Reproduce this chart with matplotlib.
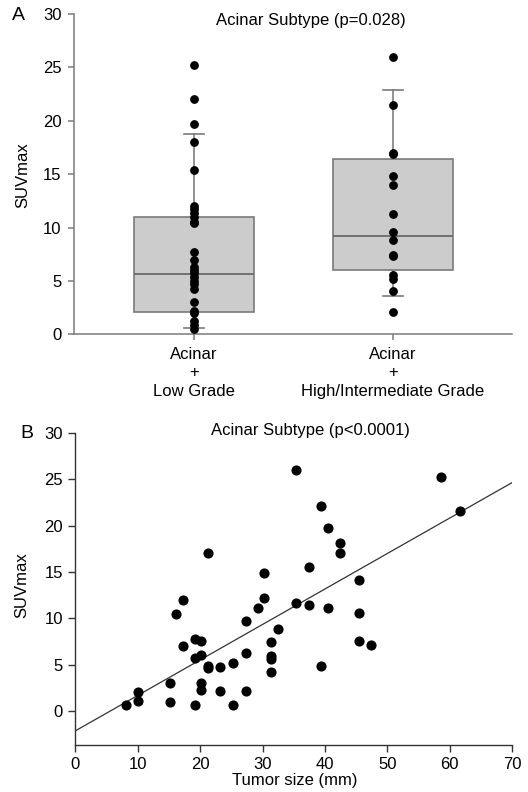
import numpy as np
import matplotlib
matplotlib.use("Agg")
import matplotlib.pyplot as plt

plt.rcParams['font.family'] = ['Liberation Sans', 'DejaVu Sans']
plt.rcParams['font.size'] = 12

# panel A data
groups = ["Acinar\n+\nLow Grade", "Acinar\n+\nHigh/Intermediate Grade"]
low_grade_suv = [25.2, 22.0, 19.7, 18.0, 15.4, 12.0, 11.7, 11.4, 11.0, 10.5, 10.4,
                 7.7, 7.0, 6.3, 6.0, 5.7, 5.4, 5.0, 4.7, 4.2, 3.0, 2.2, 2.0, 1.2, 0.9, 0.5]
high_grade_suv = [26.0, 21.5, 17.0, 16.9, 14.8, 14.0, 11.3, 9.6, 8.8, 7.4, 7.3,
                  5.6, 5.2, 4.1, 2.1]
box_whislo = [0.55, 3.56]
box_q1 = [2.08, 5.99]
box_med = [5.67, 9.23]
box_q3 = [11.03, 16.42]
box_whishi = [18.75, 22.88]

# panel B data
tumor_size = [8.1, 10.1, 10.1, 15.1, 15.1, 16.1, 17.2, 17.2, 19.1, 19.1, 19.1,
              20.2, 20.2, 20.2, 20.2, 21.2, 21.2, 21.2, 23.2, 23.2, 25.2, 25.2,
              27.3, 27.3, 27.3, 29.3, 30.3, 30.3, 31.3, 31.3, 31.3, 31.3, 32.4,
              35.4, 35.4, 37.4, 37.4, 39.4, 39.4, 40.4, 40.4, 42.4, 42.4,
              45.4, 45.4, 45.4, 47.4, 58.6, 61.6]
tumor_suv = [0.6, 2.1, 1.1, 3.0, 1.0, 10.5, 12.0, 7.0, 7.8, 5.7, 0.6,
             7.5, 6.0, 3.0, 2.3, 17.0, 4.8, 4.6, 4.7, 2.2, 5.2, 0.6,
             9.7, 6.3, 2.2, 11.1, 14.9, 12.2, 7.4, 5.9, 5.6, 4.2, 8.9,
             26.0, 11.7, 15.5, 11.4, 22.1, 4.9, 19.8, 11.1, 18.1, 17.1,
             14.1, 10.6, 7.5, 7.1, 25.3, 21.6]
fit_intercept = -2.15
fit_slope = 0.383

W, H = 528, 792
fig = plt.figure(figsize=(W / 100, H / 100), dpi=100)

# ---- panel A ----
axA = fig.add_axes([74 / W, 1 - 334.3 / H, 438 / W, 320.3 / H])
stats = []
for i in range(2):
    stats.append(dict(whislo=box_whislo[i], q1=box_q1[i], med=box_med[i],
                      q3=box_q3[i], whishi=box_whishi[i], fliers=[]))
grey = '#7a7a7a'
axA.bxp(stats, positions=[1, 2], widths=0.6, patch_artist=True, showfliers=False,
        capwidths=0.1,
        boxprops=dict(facecolor='#cccccc', edgecolor=grey, linewidth=1.2),
        medianprops=dict(color='#6a6a6a', linewidth=1.3),
        whiskerprops=dict(color='#8a8a8a', linewidth=1.3),
        capprops=dict(color=grey, linewidth=1.2))
for pos, vals in zip([1, 2], [low_grade_suv, high_grade_suv]):
    axA.plot(np.full(len(vals), pos), vals, 'o', color='black', ms=5.3,
             mec='black', zorder=4, clip_on=False)
axA.set_xlim(0.397, 2.598)
axA.set_ylim(0, 30)
axA.set_yticks(range(0, 31, 5))
axA.set_xticks([1, 2])
axA.set_xticklabels(groups)
for lab in axA.get_xticklabels():
    lab.set_linespacing(1.3)
for s in ['top', 'right']:
    axA.spines[s].set_visible(False)
for s in ['left', 'bottom']:
    axA.spines[s].set_color(grey)
    axA.spines[s].set_linewidth(1.1)
axA.tick_params(axis='both', color=grey, length=4, width=1.1, pad=5, labelsize=12)
axA.text(311 / W, 1 - 20 / H, "Acinar Subtype (p=0.028)", transform=fig.transFigure,
         ha='center', va='center', fontsize=12)

# ---- panel B ----
axB = fig.add_axes([75.3 / W, 1 - 744.7 / H, 437 / W, 311.7 / H])
axB.plot(tumor_size, tumor_suv, 'o', color='black', ms=6.3, zorder=3, clip_on=False)
axB.axline((0, fit_intercept), slope=fit_slope, color='#333333', linewidth=0.9)
axB.set_xlim(0, 70)
axB.set_ylim(-3.64, 30)
axB.set_yticks(range(0, 31, 5))
axB.set_xticks(range(0, 71, 10))
for s in ['top', 'right']:
    axB.spines[s].set_visible(False)
for s in ['left', 'bottom']:
    axB.spines[s].set_color('#333333')
    axB.spines[s].set_linewidth(1.0)
axB.tick_params(axis='both', color='#333333', length=5, width=1.0, pad=4, labelsize=12)
axB.text(310 / W, 1 - 431 / H, "Acinar Subtype (p<0.0001)", transform=fig.transFigure,
         ha='center', va='center', fontsize=12)

# labels
fig.text(18.5 / W, 1 - 15 / H, "A", ha='center', va='center', fontsize=14)
fig.text(27 / W, 1 - 433 / H, "B", ha='center', va='center', fontsize=14)
fig.text(23 / W, 1 - 175 / H, "SUVmax", rotation=90, ha='center', va='center', fontsize=12)
fig.text(22 / W, 1 - 585 / H, "SUVmax", rotation=90, ha='center', va='center', fontsize=12)
fig.text(295 / W, 1 - 780 / H, "Tumor size (mm)", ha='center', va='center', fontsize=12)

fig.savefig("out.png", dpi=100)
